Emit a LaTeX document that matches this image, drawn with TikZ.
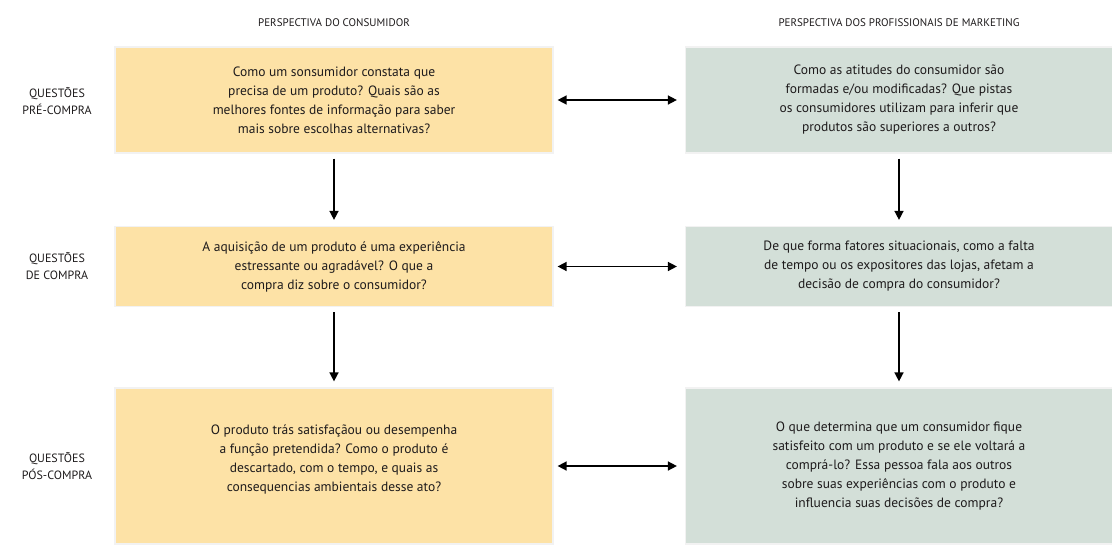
\documentclass[tikz,border=0pt]{standalone}
\usepackage{fontspec}
\setmainfont{PT Sans}
\usetikzlibrary{arrows.meta}
\definecolor{consyellow}{HTML}{FDE2A6}
\definecolor{mktgreen}{HTML}{D3DFD8}
\definecolor{inkgray}{HTML}{1E1B1C}
\begin{document}
\begin{tikzpicture}[x=1pt, y=-1pt, font=\fontsize{13.5}{19}\selectfont, text=inkgray,
    consbox/.style={fill=consyellow, draw=black!5, line width=1.2pt, minimum width=438pt, inner sep=0pt, align=center},
    mktbox/.style={fill=mktgreen, draw=black!5, line width=1.2pt, minimum width=427pt, inner sep=0pt, align=center},
    colhead/.style={font=\fontsize{11}{13}\selectfont},
    rowhead/.style={font=\fontsize{12}{17}\selectfont, align=center},
    flow/.style={-{Triangle[length=9pt,width=9pt]}, line width=1.5pt, shorten <=5pt, shorten >=6pt},
    link/.style={{Triangle[length=9pt,width=9pt]}-{Triangle[length=9pt,width=9pt]}, line width=1.5pt, shorten <=4pt, shorten >=8pt}]
  \useasboundingbox (0,0) rectangle (1112,544);

  % column titles
  \node[colhead] (hcons) at (334, 23) {PERSPECTIVA DO CONSUMIDOR};
  \node[colhead] (hmkt) at (899, 23) {PERSPECTIVA DOS PROFISSIONAIS DE MARKETING};

  % row titles
  \node[rowhead] (qpre) at (57, 101) {QUESTÕES\\PRÉ-COMPRA};
  \node[rowhead] (qbuy) at (57, 266) {QUESTÕES\\DE COMPRA};
  \node[rowhead] (qpos) at (57, 466) {QUESTÕES\\PÓS-COMPRA};

  % consumer side
  \node[consbox, minimum height=106pt] (c1) at (334, 100) {Como um sonsumidor constata que\\precisa de um produto? Quais são as\\melhores fontes de informação para saber\\mais sobre escolhas alternativas?};
  \node[consbox, minimum height=80pt] (c2) at (334, 266.5) {A aquisição de um produto é uma experiência\\estressante ou agradável? O que a\\compra diz sobre o consumidor?};
  \node[consbox, minimum height=156pt] (c3) at (334, 466) {O produto trás satisfaçãou ou desempenha\\a função pretendida? Como o produto é\\descartado, com o tempo, e quais as\\consequencias ambientais desse ato?\\[-3pt]};

  % marketing side
  \node[mktbox, minimum height=106pt] (m1) at (899, 100) {Como as atitudes do consumidor são\\formadas e/ou modificadas? Que pistas\\os consumidores utilizam para inferir que\\produtos são superiores a outros?};
  \node[mktbox, minimum height=80pt] (m2) at (899, 266.5) {De que forma fatores situacionais, como a falta\\de tempo ou os expositores das lojas, afetam a\\decisão de compra do consumidor?};
  \node[mktbox, minimum height=156pt] (m3) at (899, 466) {O que determina que um consumidor fique\\satisfeito com um produto e se ele voltará a\\comprá-lo? Essa pessoa fala aos outros\\sobre suas experiências com o produto e\\influencia suas decisões de compra?};

  \draw[flow] (c1) -- (c2);
  \draw[flow] (c2) -- (c3);
  \draw[flow] (m1) -- (m2);
  \draw[flow] (m2) -- (m3);

  \draw[link] (c1) -- (m1);
  \draw[link] (c2) -- (m2);
  \draw[link] (c3) -- (m3);
\end{tikzpicture}
\end{document}
